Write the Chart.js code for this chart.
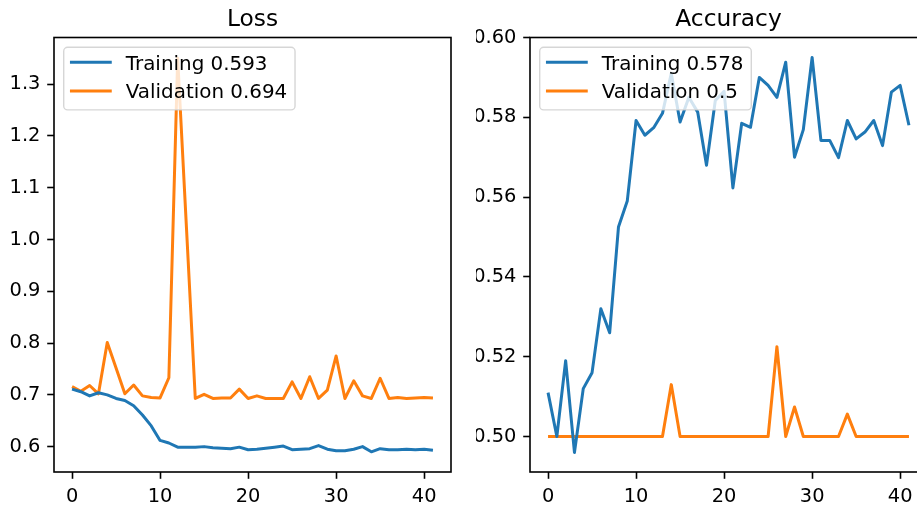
<!DOCTYPE html>
<html>
<head>
<meta charset="utf-8">
<title>Training history</title>
<script src="https://cdn.jsdelivr.net/npm/chart.js@4.4.1/dist/chart.umd.min.js"></script>
<style>
    html, body { margin: 0; padding: 0; background: #fff; overflow: hidden; width: 917px; height: 505px; }
    canvas { position: absolute; top: 0; }
    #lossChart { left: 0; }
    #accChart { left: 476px; }
</style>
</head>
<body>
<canvas id="lossChart" width="470" height="505"></canvas>
<canvas id="accChart" width="460" height="505"></canvas>
<script>
// Per-epoch history of the model run
const epochs = [0, 1, 2, 3, 4, 5, 6, 7, 8, 9, 10, 11, 12, 13, 14, 15, 16, 17, 18, 19, 20,
    21, 22, 23, 24, 25, 26, 27, 28, 29, 30, 31, 32, 33, 34, 35, 36, 37, 38, 39, 40, 41];

const lossTrain = [0.711, 0.706, 0.698, 0.704, 0.700, 0.693, 0.689, 0.679, 0.661, 0.640, 0.612,
    0.607, 0.599, 0.599, 0.599, 0.600, 0.598, 0.597, 0.596, 0.599, 0.594, 0.595, 0.597, 0.599,
    0.601, 0.594, 0.595, 0.596, 0.602, 0.595, 0.592, 0.592, 0.595, 0.600, 0.590, 0.596, 0.594,
    0.594, 0.595, 0.594, 0.595, 0.593];
const lossVal = [0.716, 0.707, 0.718, 0.702, 0.801, 0.752, 0.702, 0.719, 0.698, 0.695, 0.694,
    0.733, 1.350, 1.022, 0.693, 0.701, 0.693, 0.694, 0.694, 0.711, 0.693, 0.698, 0.693, 0.693,
    0.693, 0.725, 0.693, 0.735, 0.693, 0.709, 0.775, 0.693, 0.727, 0.698, 0.693, 0.732, 0.693,
    0.695, 0.693, 0.694, 0.695, 0.694];

const accTrain = [0.511, 0.500, 0.519, 0.496, 0.512, 0.516, 0.532, 0.526, 0.5525, 0.559, 0.5792,
    0.5755, 0.5774, 0.581, 0.591, 0.5788, 0.585, 0.5813, 0.568, 0.5842, 0.5865, 0.5623, 0.5785,
    0.5775, 0.590, 0.588, 0.585, 0.5938, 0.570, 0.5769, 0.595, 0.5742, 0.5742, 0.5699, 0.5792,
    0.5746, 0.5763, 0.5792, 0.5729, 0.5863, 0.588, 0.578];
const accVal = [0.5, 0.5, 0.5, 0.5, 0.5, 0.5, 0.5, 0.5, 0.5, 0.5, 0.5, 0.5, 0.5, 0.5, 0.513,
    0.5, 0.5, 0.5, 0.5, 0.5, 0.5, 0.5, 0.5, 0.5, 0.5, 0.5, 0.5225, 0.5, 0.5074, 0.5, 0.5, 0.5,
    0.5, 0.5, 0.5056, 0.5, 0.5, 0.5, 0.5, 0.5, 0.5, 0.5];

const epochTicks = [0, 10, 20, 30, 40];
const lossTicks = [0.6, 0.7, 0.8, 0.9, 1.0, 1.1, 1.2, 1.3];
const accTicks = [0.50, 0.52, 0.54, 0.56, 0.58, 0.60];

const BLUE = '#1f77b4';
const ORANGE = '#ff7f0e';
const EM = 19.4;           // 10pt text
const LEGEND_SIZE = 19.9;
const TITLE_SIZE = 23.3;   // 12pt title

Chart.defaults.font.family = '"DejaVu Sans", sans-serif';
Chart.defaults.color = '#000';

// Spines, boxed legend and title, drawn in the same way for both panels
const panelDecor = {
    id: 'panelDecor',
    afterDraw(chart, args, opts) {
        const ctx = chart.ctx;
        const a = chart.chartArea;
        ctx.save();

        ctx.strokeStyle = '#000';
        ctx.lineWidth = 1.6;
        ctx.strokeRect(a.left, a.top, a.right - a.left, a.bottom - a.top);

        // legend box
        ctx.font = LEGEND_SIZE + 'px "DejaVu Sans"';
        const sets = chart.data.datasets;
        const textW = Math.max(...sets.map(d => ctx.measureText(d.label).width));
        const bx = a.left + 0.5 * EM;
        const by = a.top + 0.5 * EM;
        const bw = 0.4 * EM * 2 + 2 * EM + 0.8 * EM + textW;
        const bh = 62.7;
        ctx.beginPath();
        ctx.roundRect(bx, by, bw, bh, 4);
        ctx.fillStyle = 'rgba(255,255,255,0.8)';
        ctx.fill();
        ctx.strokeStyle = 'rgba(204,204,204,0.8)';
        ctx.lineWidth = 1.4;
        ctx.stroke();

        sets.forEach((d, i) => {
            const cy = by + 15 + i * 28.7;
            const hx = bx + 0.4 * EM;
            ctx.beginPath();
            ctx.moveTo(hx, cy);
            ctx.lineTo(hx + 2 * EM, cy);
            ctx.strokeStyle = d.borderColor;
            ctx.lineWidth = 3;
            ctx.lineCap = 'square';
            ctx.stroke();
            ctx.fillStyle = '#000';
            ctx.textAlign = 'left';
            ctx.textBaseline = 'alphabetic';
            ctx.fillText(d.label, hx + 2.8 * EM, cy + 7.5);
        });

        // title
        ctx.font = TITLE_SIZE + 'px "DejaVu Sans"';
        ctx.textAlign = 'center';
        ctx.textBaseline = 'alphabetic';
        ctx.fillStyle = '#000';
        ctx.fillText(opts.title, (a.left + a.right) / 2, a.top - 11.7);
        ctx.restore();
    }
};

function lastLabel(name, values) {
    return name + ' ' + (+values[values.length - 1].toFixed(3));
}

function points(values) {
    return epochs.map((e, i) => ({ x: e, y: values[i] }));
}

function lineSet(name, values, color) {
    return {
        label: lastLabel(name, values),
        data: points(values),
        borderColor: color,
        backgroundColor: color,
        borderWidth: 3,
        borderJoinStyle: 'round',
        pointRadius: 0,
        tension: 0,
        fill: false
    };
}

function axisGrid() {
    return {
        display: true,
        drawOnChartArea: false,
        drawTicks: true,
        tickLength: 6.8,
        tickColor: '#000',
        tickWidth: 1.6
    };
}

function panel(canvasId, title, train, val, yTicks, yMin, yMax, digits, padRight) {
    const ctx = document.getElementById(canvasId).getContext('2d');
    return new Chart(ctx, {
        type: 'line',
        data: {
            datasets: [
                lineSet('Training', train, BLUE),
                lineSet('Validation', val, ORANGE)
            ]
        },
        plugins: [panelDecor],
        options: {
            responsive: false,
            animation: false,
            devicePixelRatio: 1,
            layout: {
                padding: { left: 0, right: padRight, top: 37.5, bottom: 0 }
            },
            scales: {
                x: {
                    type: 'linear',
                    min: -2.05,
                    max: 43.05,
                    afterBuildTicks: s => { s.ticks = epochTicks.map(v => ({ value: v })); },
                    afterFit: s => { s.height = 33; },
                    grid: axisGrid(),
                    border: { display: false },
                    ticks: {
                        padding: 6.8,
                        font: { size: EM },
                        color: '#000',
                        maxRotation: 0,
                        callback: v => String(v)
                    }
                },
                y: {
                    type: 'linear',
                    min: yMin,
                    max: yMax,
                    afterBuildTicks: s => { s.ticks = yTicks.map(v => ({ value: v })); },
                    afterFit: s => { s.width = 54; },
                    grid: axisGrid(),
                    border: { display: false },
                    ticks: {
                        padding: 6.8,
                        font: { size: EM },
                        color: '#000',
                        callback: v => v.toFixed(digits)
                    }
                }
            },
            plugins: {
                legend: { display: false },
                tooltip: { enabled: false },
                panelDecor: { title: title }
            }
        }
    });
}

panel('lossChart', 'Loss', lossTrain, lossVal, lossTicks, 0.551, 1.39, 1, 19);
panel('accChart', 'Accuracy', accTrain, accVal, accTicks, 0.4911, 0.6, 2, 9);
</script>
</body>
</html>
